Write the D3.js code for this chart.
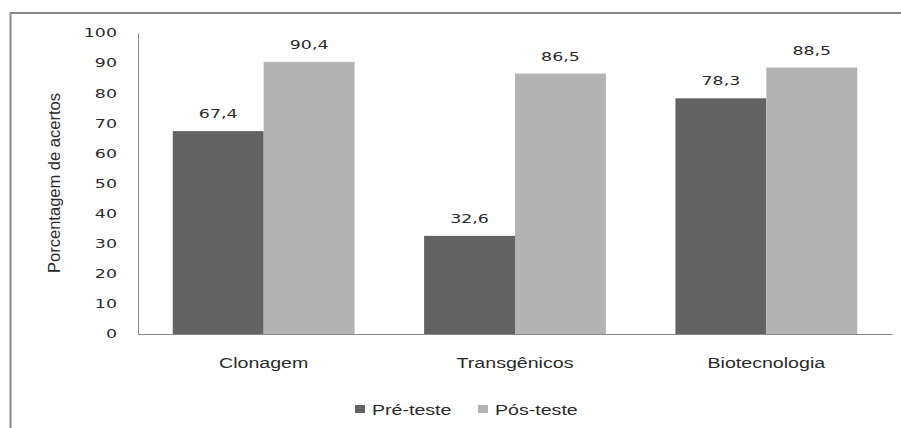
<!DOCTYPE html>
<html lang="pt">
	<head>
		<meta charset="utf-8">
		<title>Porcentagem de acertos</title>
		<script src="https://d3js.org/d3.v7.min.js"></script>
		<style>
			body { margin:0; background:#fff; }
			text { fill:#2a2a2a; }
			.num { font-family:"DejaVu Sans", Verdana, sans-serif; font-size:12px; }
			.cat { font-family:"Liberation Sans", Arial, sans-serif; font-size:14px; }
		</style>
	</head>
	<body>
		<script>
			// data
			var categories = ["Clonagem", "Transgênicos", "Biotecnologia"];
			var series = ["Pré-teste", "Pós-teste"];
			var preTeste = [67.4, 32.6, 78.3];
			var posTeste = [90.4, 86.5, 88.5];
			var yTicks = [0, 10, 20, 30, 40, 50, 60, 70, 80, 90, 100];
			var colors = ["#636363", "#b3b3b3"];

			const w = 901, h = 428;
			const sx = 1.45; // the original picture is stretched sideways
			var fmt = v => String(v).replace(".", ",");

			var svg = d3.select("body").append("svg")
				.attr("width", w).attr("height", h);

			// outer frame (only left and top edges visible)
			svg.append("path")
				.attr("d", "M10.5,428 V13 H901")
				.attr("fill", "none")
				.attr("stroke", "#8a8a8a")
				.attr("stroke-width", 2);

			var x0 = d3.scaleBand().domain(categories).range([138, 892])
				.paddingInner(0.2766).paddingOuter(0.1383);
			var x1 = d3.scaleBand().domain(series).range([0, x0.bandwidth()]);
			var y = d3.scaleLinear().domain([0, 100]).range([334, 33]);

			var rows = categories.map((c, i) => ({cat: c, vals: [preTeste[i], posTeste[i]]}));

			// bars
			var groups = svg.append("g").selectAll("g")
				.data(rows).enter().append("g")
				.attr("transform", d => "translate(" + x0(d.cat) + ",0)");

			groups.selectAll("rect")
				.data(d => d.vals.map((v, j) => ({s: series[j], v: v, j: j})))
				.enter().append("rect")
				.attr("x", d => x1(d.s))
				.attr("width", x1.bandwidth())
				.attr("y", d => y(d.v))
				.attr("height", d => y(0) - y(d.v))
				.attr("fill", d => colors[d.j]);

			groups.selectAll("text")
				.data(d => d.vals.map((v, j) => ({s: series[j], v: v})))
				.enter().append("text")
				.attr("class", "num")
				.attr("text-anchor", "middle")
				.attr("transform", d => "translate(" + (x1(d.s) + x1.bandwidth() / 2) + "," + (y(d.v) - 13) + ") scale(" + sx + ",1)")
				.text(d => fmt(d.v));

			// y axis
			var yAxis = svg.append("g")
				.attr("transform", "translate(138,0)")
				.call(d3.axisLeft(y).tickValues(yTicks).tickSize(0).tickPadding(14.5));
			yAxis.select(".domain").attr("stroke", "#8a8a8a");
			yAxis.selectAll("text")
				.attr("class", "num")
				.attr("fill", null)
				.attr("transform", "scale(" + sx + ",1)");

			// x axis
			var xAxis = svg.append("g")
				.attr("transform", "translate(0,334)")
				.call(d3.axisBottom(x0).tickSize(0).tickSizeOuter(0));
			xAxis.select(".domain").attr("stroke", "#8a8a8a");
			xAxis.selectAll("text")
				.attr("class", "cat")
				.attr("fill", null)
				.attr("y", 0).attr("dy", null)
				.attr("transform", "translate(0,34) scale(1.4,1)");

			// y axis title
			svg.append("text")
				.attr("class", "cat")
				.style("font-size", "13px")
				.attr("text-anchor", "middle")
				.attr("dy", "0.35em")
				.attr("textLength", 180)
				.attr("lengthAdjust", "spacingAndGlyphs")
				.attr("transform", "translate(55,183) scale(1.2,1) rotate(-90)")
				.text("Porcentagem de acertos");

			// legend
			var legendX = [355, 478];
			var legend = svg.append("g").selectAll("g")
				.data(series).enter().append("g")
				.attr("transform", (d, i) => "translate(" + legendX[i] + ",405)");
			legend.append("rect")
				.attr("width", 10).attr("height", 8)
				.attr("fill", (d, i) => colors[i]);
			legend.append("text")
				.attr("class", "cat")
				.attr("transform", "translate(17,9.5) scale(1.4,1)")
				.text(d => d);
		</script>
	</body>
</html>
